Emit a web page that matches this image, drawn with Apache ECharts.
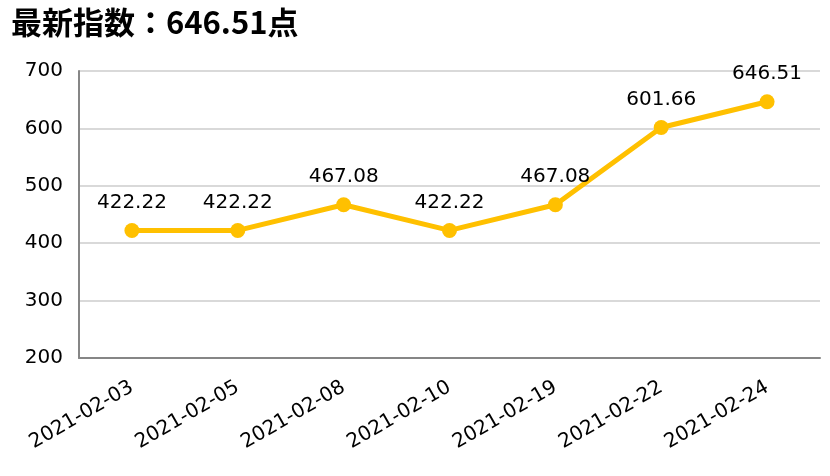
<!DOCTYPE html>
<html><head><meta charset="utf-8">
<script src="https://cdn.jsdelivr.net/npm/echarts@6/dist/echarts.min.js"></script>
<style>html,body{margin:0;padding:0;background:#fff}#c{width:830px;height:476px}</style>
</head><body><div id="c"></div>
<script>
const categories = ['2021-02-03','2021-02-05','2021-02-08','2021-02-10','2021-02-19','2021-02-22','2021-02-24'];
const values = [422.22, 422.22, 467.08, 422.22, 467.08, 601.66, 646.51];
const titleText = '最新指数：646.51点';
const yMin = 200, yMax = 700, yStep = 100;

const chart = echarts.init(document.getElementById('c'), null, {renderer:'canvas'});
const tfont = '"Noto Sans CJK JP","Noto Sans CJK SC",sans-serif';
const font = '"DejaVu Sans",sans-serif';
chart.setOption({
  animation:false,
  title:{text:titleText,left:6,top:2,textStyle:{fontFamily:tfont,fontSize:31,fontWeight:'bold',color:'#000'}},
  grid:{left:79,right:10,top:71,bottom:118},
  xAxis:{type:'category',data:categories,boundaryGap:true,
    axisLine:{lineStyle:{color:'#868686',width:2}},axisTick:{show:false},
    axisLabel:{rotate:30,fontFamily:font,fontSize:20,color:'#000',margin:28}},
  yAxis:{type:'value',min:yMin,max:yMax,interval:yStep,
    axisLine:{show:true,lineStyle:{color:'#868686',width:2}},axisTick:{show:false},
    splitLine:{lineStyle:{color:'#d9d9d9',width:2}},
    axisLabel:{fontFamily:font,fontSize:20,color:'#000',margin:16}},
  series:[{type:'line',data:values,color:'#FFC000',
    lineStyle:{width:5,color:'#FFC000'},symbol:'circle',symbolSize:15,
    itemStyle:{color:'#FFC000'},
    label:{show:true,position:'top',distance:10,fontFamily:font,fontSize:20,color:'#000',
      formatter:p=>p.value.toFixed(2)}}]
});
</script></body></html>
